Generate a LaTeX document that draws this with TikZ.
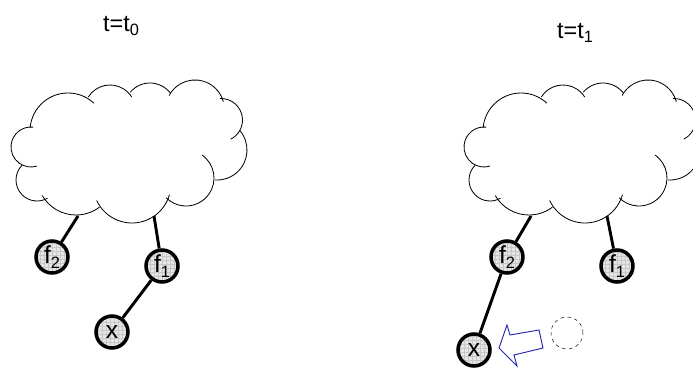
\documentclass[tikz,border=0pt]{standalone}
\usepackage{fontspec}
\setmainfont{Liberation Sans}
\definecolor{pushblue}{RGB}{40,40,170}
\newcommand\lowidx[1]{\raisebox{-0.35ex}{\fontsize{14}{14}\selectfont #1}}

\begin{document}
\begin{tikzpicture}[
    x=0.03cm, y=-0.03cm,
    every node/.style={font=\fontsize{20}{22}\selectfont},
    state/.style={circle, draw=black, line width=3pt, minimum size=0.96cm,
                  inner sep=0pt, fill=black!10,
                  font=\fontsize{21}{22}\selectfont,
                  path picture={\draw[black!22, line width=0.25pt, step=0.12cm]
                      (path picture bounding box.south west) grid
                      (path picture bounding box.north east);}},
    ghost/.style={circle, draw=black, dashed, thin, minimum size=0.96cm},
    link/.style={line width=2.5pt},
    puff/.style={draw=black, line width=0.7pt},
    shove/.style={draw=pushblue, line width=0.8pt, line join=miter}
]
\useasboundingbox (0,0) rectangle (693,369);
\clip (0,0) rectangle (693,369);

% the two clouds, same outline
\foreach \dx in {0,453} {
  \begin{scope}[shift={(\dx,0)}]
    \foreach \cx/\cy/\sa/\ea/\r in {31/147/-84/-287/20, 37/180/225/60/21,
        76/176/150/53/39, 132/184/155/16/39, 186/178/-55/135/28,
        217/150/-41/94/30, 221/120/-93/63/21.5, 195/109.3/-152/-15/29.3,
        150/108.8/-140/-38/25.8, 110/110.6/-148/-32/25.6, 68/131/-175/-47/38}
      \draw[puff] (\cx,\cy) ++(\sa:\r) arc[start angle=\sa, end angle=\ea, radius=\r];
  \end{scope}
}

% t = t0
\node (tlabA) at (121,26) {t=t\lowidx{0}};
\coordinate (rimA2) at (78,216);
\coordinate (rimA1) at (154,216);
\node[state] (fA2) at (52,257) {f\lowidx{2}};
\node[state] (fA1) at (162,266) {f\lowidx{1}};
\node[state] (xA) at (112,332) {x};
\draw[link] (rimA2) -- (fA2);
\draw[link] (rimA1) -- (fA1);
\draw[link] (fA1) -- (xA);

% t = t1
\node (tlabB) at (575,33) {t=t\lowidx{1}};
\coordinate (rimB2) at (531,216);
\coordinate (rimB1) at (607,216);
\node[state] (fB2) at (507,257) {f\lowidx{2}};
\node[state] (fB1) at (617,266) {f\lowidx{1}};
\node[state] (xB) at (474,350) {x};
\node[ghost] (gone) at (567,333) {};
\draw[link] (rimB2) -- (fB2);
\draw[link] (rimB1) -- (fB1);
\draw[link] (fB2) -- (xB);
\draw[shove] (499,348) -- (507,325) -- (510,335) -- (539,330) -- (543,348)
    -- (514,355) -- (517,366) -- cycle;

\end{tikzpicture}
\end{document}
